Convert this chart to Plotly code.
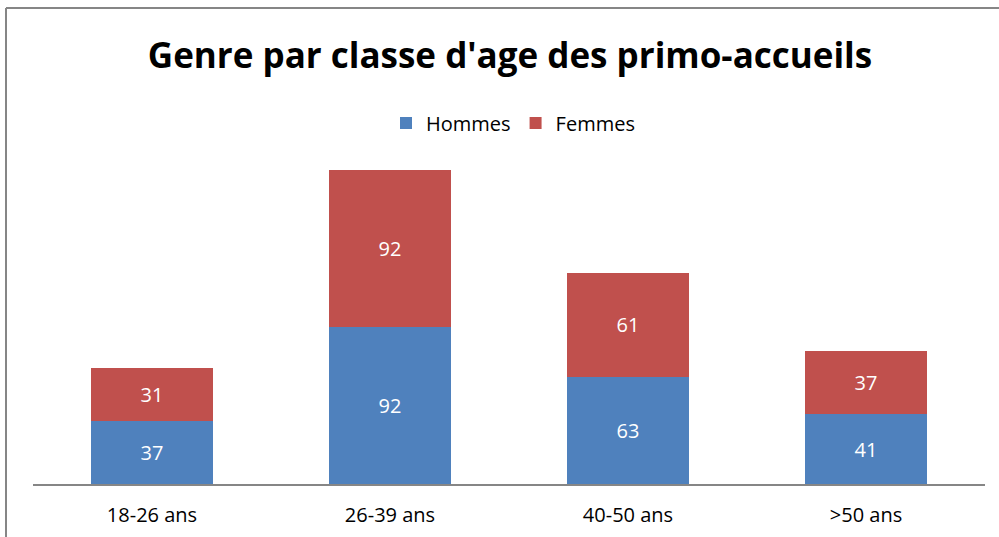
import plotly.graph_objects as go

categories = ["18-26 ans", "26-39 ans", "40-50 ans", ">50 ans"]
hommes = [37, 92, 63, 41]
femmes = [31, 92, 61, 37]

W, H = 999, 537
ml, mr, mt, mb = 33, 14, 143, 53
pw = W - ml - mr
ph = H - mt - mb

fig = go.Figure()
fig.add_trace(go.Bar(x=categories, y=hommes, name="Hommes", marker_color="#4F81BD",
                     marker_line_width=0, text=hommes, textposition="inside",
                     insidetextanchor="middle",
                     textfont=dict(color="white", size=20, family="Open Sans")))
fig.add_trace(go.Bar(x=categories, y=femmes, name="Femmes", marker_color="#C0504D",
                     marker_line_width=0, text=femmes, textposition="inside",
                     insidetextanchor="middle",
                     textfont=dict(color="white", size=20, family="Open Sans")))

def px(x):
    return (x - ml) / pw

def py(y):
    return (H - mb - y) / ph

fig.update_layout(
    width=W, height=H,
    barmode="stack", bargap=0.49,
    margin=dict(l=ml, r=mr, t=mt, b=mb, autoexpand=False),
    paper_bgcolor="white", plot_bgcolor="white",
    font=dict(family="Open Sans", color="black"),
    title=dict(text="<b>Genre par classe d'age des primo-accueils</b>",
               x=510 / W, xanchor="center", y=1 - 56 / H, yanchor="middle",
               font=dict(size=35, family="Open Sans", color="black")),
    legend=dict(orientation="h", x=px(513), xanchor="center", y=py(123), yanchor="middle",
                font=dict(size=20), traceorder="normal", itemwidth=30,
                bgcolor="rgba(0,0,0,0)"),
    xaxis=dict(showline=True, linecolor="#868686", linewidth=2, ticks="outside",
               ticklen=12, tickcolor="rgba(0,0,0,0)", automargin=False,
               tickfont=dict(size=20), showgrid=False),
    yaxis=dict(range=[0, 200], visible=False, showgrid=False, automargin=False),
    uniformtext=dict(minsize=10, mode="show"),
    shapes=[
        dict(type="line", xref="paper", yref="paper", x0=px(6), x1=px(6), y0=py(8), y1=py(540),
             line=dict(color="#868686", width=2)),
        dict(type="line", xref="paper", yref="paper", x0=px(6), x1=px(1000), y0=py(8), y1=py(8),
             line=dict(color="#868686", width=2)),
    ],
)

fig.write_html("out.html", config={"displayModeBar": False},
               post_script="document.body.style.margin='0';")
